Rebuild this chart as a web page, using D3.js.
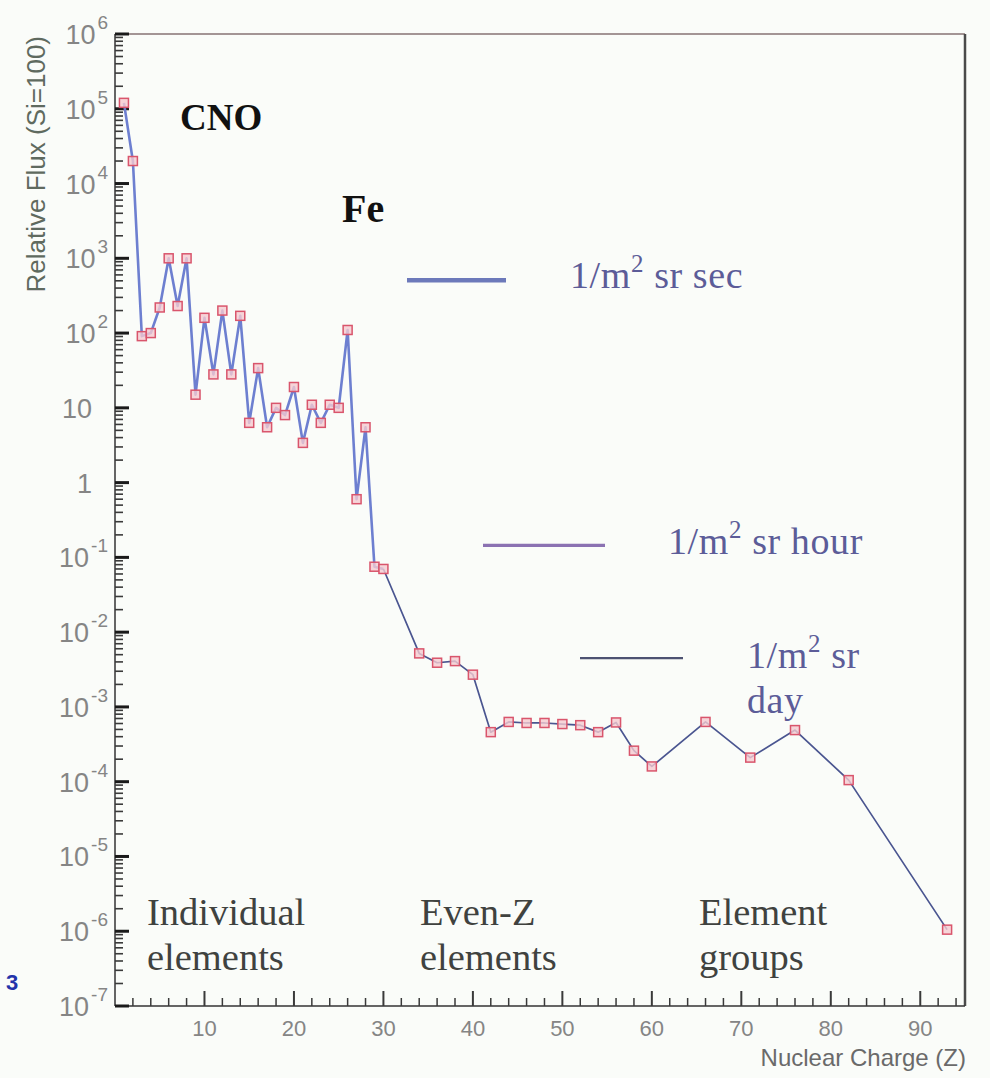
<!DOCTYPE html>
<html>
<head>
<meta charset="utf-8">
<script src="https://cdn.jsdelivr.net/npm/d3@7"></script>
<style>
  body { margin: 0; background: #fafcf9; }
  svg { display: block; }
</style>
</head>
<body>
<svg id="chart" width="990" height="1078"></svg>
<script>
// Nuclear charge Z of each measured element / group
const charges = [1, 2, 3, 4, 5, 6, 7, 8, 9, 10, 11, 12, 13, 14, 15, 16, 17, 18, 19, 20,
  21, 22, 23, 24, 25, 26, 27, 28, 29, 30, 34, 36, 38, 40, 42, 44, 46, 48, 50, 52,
  54, 56, 58, 60, 66, 71, 76, 82, 93];
// Relative flux, normalised to Si = 100
const relFlux = [1.2e5, 2.0e4, 91, 100, 220, 1000, 230, 1000, 15, 160, 28, 200, 28, 170, 6.3, 34, 5.5, 10, 8, 19,
  3.4, 11, 6.3, 11, 10, 110, 0.6, 5.5, 0.075, 0.07, 5.2e-3, 3.9e-3, 4.1e-3, 2.7e-3, 4.6e-4, 6.3e-4, 6.1e-4, 6.1e-4, 5.9e-4, 5.7e-4,
  4.6e-4, 6.2e-4, 2.6e-4, 1.6e-4, 6.3e-4, 2.1e-4, 4.9e-4, 1.05e-4, 1.05e-6];

// Flux levels corresponding to one particle per m^2 sr per second / hour / day
const rateValues = [510, 0.145, 4.5e-3];
const rateUnits = ["sec", "hour", "day"];

// Axis ticks
const yExponents = d3.range(-7, 7);
const xTickLabels = [10, 20, 30, 40, 50, 60, 70, 80, 90];

const svg = d3.select("#chart");
const W = 990, H = 1078;
const plot = { left: 115, right: 965, top: 34, bottom: 1006 };

const x = d3.scaleLinear().domain([0, 95]).range([plot.left, plot.right]);
const y = d3.scaleLog().domain([1e-7, 1e6]).range([plot.bottom, plot.top]);

svg.append("rect").attr("width", W).attr("height", H).attr("fill", "#fafcf9");

const sans = "'Liberation Sans', Arial, sans-serif";
const serif = "'Liberation Serif', 'Times New Roman', serif";

// Frame
svg.append("line").attr("x1", plot.left).attr("x2", plot.right)
  .attr("y1", plot.top).attr("y2", plot.top)
  .attr("stroke", "#a39595").attr("stroke-width", 2);
svg.append("line").attr("x1", plot.right).attr("x2", plot.right)
  .attr("y1", plot.top).attr("y2", plot.bottom)
  .attr("stroke", "#4a4a4a").attr("stroke-width", 2.5);
svg.append("line").attr("x1", plot.left).attr("x2", plot.right)
  .attr("y1", plot.bottom).attr("y2", plot.bottom)
  .attr("stroke", "#333").attr("stroke-width", 1.5);
svg.append("line").attr("x1", plot.left).attr("x2", plot.left)
  .attr("y1", plot.top).attr("y2", plot.bottom)
  .attr("stroke", "#333").attr("stroke-width", 1.5);

// Y ticks: decades and 2..9 sub-divisions, drawn inward
const yMinor = [];
for (let e = -7; e < 6; e++) for (let m = 2; m <= 9; m++) yMinor.push(m * Math.pow(10, e));
svg.append("g").selectAll("line").data(yMinor).join("line")
  .attr("x1", plot.left).attr("x2", plot.left + 8)
  .attr("y1", d => y(d)).attr("y2", d => y(d))
  .attr("stroke", "#3a3a3a").attr("stroke-width", 1.6);
svg.append("g").selectAll("line").data(yExponents).join("line")
  .attr("x1", plot.left).attr("x2", plot.left + 14)
  .attr("y1", d => y(Math.pow(10, d))).attr("y2", d => y(Math.pow(10, d)))
  .attr("stroke", "#1a1a1a").attr("stroke-width", 3);

// Y tick labels
const yLab = svg.append("g").attr("font-family", sans).attr("fill", "#858585");
yExponents.forEach(e => {
  const yy = y(Math.pow(10, e));
  if (e === 0 || e === 1) {
    yLab.append("text").attr("x", 92).attr("y", yy + 10)
      .attr("text-anchor", "end").attr("font-size", 27)
      .text(e === 0 ? "1" : "10");
  } else {
    const t = yLab.append("text").attr("x", 108).attr("y", yy + 10)
      .attr("text-anchor", "end");
    t.append("tspan").attr("font-size", 27).text("10");
    t.append("tspan").attr("font-size", 19).attr("dy", -15).attr("dx", 2).text(String(e));
  }
});

// X ticks
svg.append("g").selectAll("line").data(d3.range(2, 96, 2)).join("line")
  .attr("x1", d => x(d)).attr("x2", d => x(d))
  .attr("y1", plot.bottom).attr("y2", d => plot.bottom - (d % 10 === 0 ? 15 : 8))
  .attr("stroke", "#3a3a3a").attr("stroke-width", d => d % 10 === 0 ? 2 : 1.5);

svg.append("g").selectAll("text").data(xTickLabels).join("text")
  .attr("x", d => x(d)).attr("y", 1036)
  .attr("text-anchor", "middle").attr("font-family", sans)
  .attr("font-size", 22).attr("fill", "#858585")
  .text(d => d);

// Axis titles
svg.append("text")
  .attr("transform", "translate(45,36) rotate(-90)")
  .attr("text-anchor", "end").attr("font-family", sans)
  .attr("font-size", 26).attr("fill", "#5f6a5f")
  .text("Relative Flux (Si=100)");
svg.append("text")
  .attr("x", 966).attr("y", 1066).attr("text-anchor", "end")
  .attr("font-family", sans).attr("font-size", 24).attr("fill", "#6a6a6a")
  .text("Nuclear Charge (Z)");

// Reference flux levels with their labels
const rateX = [[407, 506], [483, 605], [580, 683]];
const rateColor = ["#6c79ba", "#8b72b2", "#4d5272"];
const rateWidth = [4.5, 3.2, 2.2];
rateValues.forEach((v, i) => {
  svg.append("line")
    .attr("x1", rateX[i][0]).attr("x2", rateX[i][1])
    .attr("y1", y(v)).attr("y2", y(v))
    .attr("stroke", rateColor[i]).attr("stroke-width", rateWidth[i]);
});
const rateLabelPos = [[570, 288], [668, 554], [747, 668]];
rateUnits.forEach((u, i) => {
  const t = svg.append("text").attr("x", rateLabelPos[i][0]).attr("y", rateLabelPos[i][1])
    .attr("font-family", serif).attr("font-size", 38).attr("letter-spacing", 0.6)
    .attr("fill", "#5c5c98");
  t.append("tspan").text("1/m");
  t.append("tspan").attr("font-size", 25).attr("dy", -16).text("2");
  t.append("tspan").attr("dy", 16).text(u === "day" ? " sr" : " sr " + u);
  if (u === "day") {
    svg.append("text").attr("x", rateLabelPos[i][0]).attr("y", rateLabelPos[i][1] + 45)
      .attr("font-family", serif).attr("font-size", 38).attr("letter-spacing", 0.6)
      .attr("fill", "#5c5c98").text("day");
  }
});

// Data line: individual elements, then even-Z / grouped elements
const points = charges.map((z, i) => ({ z, f: relFlux[i] }));
const line = d3.line().x(d => x(d.z)).y(d => y(d.f));
svg.append("path").datum(points.filter(d => d.z <= 30))
  .attr("d", line).attr("fill", "none")
  .attr("stroke", "#6d7fd0").attr("stroke-width", 2.6).attr("stroke-linejoin", "round");
svg.append("path").datum(points.filter(d => d.z >= 30))
  .attr("d", line).attr("fill", "none")
  .attr("stroke", "#4a5590").attr("stroke-width", 1.7).attr("stroke-linejoin", "round");

// Markers
svg.append("g").selectAll("rect").data(points).join("rect")
  .attr("x", d => x(d.z) - 4.5).attr("y", d => y(d.f) - 4.5)
  .attr("width", 9).attr("height", 9)
  .attr("fill", "#f5c9cf").attr("fill-opacity", 0.8)
  .attr("stroke", "#d9556c").attr("stroke-width", 1.5);

// Annotations
svg.append("text").attr("x", 180).attr("y", 130)
  .attr("font-family", serif).attr("font-weight", "bold").attr("font-size", 37)
  .attr("fill", "#111").text("CNO");
svg.append("text").attr("x", 342).attr("y", 222)
  .attr("font-family", serif).attr("font-weight", "bold").attr("font-size", 40)
  .attr("fill", "#111").text("Fe");

const groupLabels = [
  { x: 147, lines: ["Individual", "elements"] },
  { x: 420, lines: ["Even-Z", "elements"] },
  { x: 699, lines: ["Element", "groups"] }
];
groupLabels.forEach(g => {
  g.lines.forEach((s, k) => {
    svg.append("text").attr("x", g.x).attr("y", 925 + k * 45)
      .attr("font-family", serif).attr("font-size", 38.5).attr("fill", "#3f423f")
      .text(s);
  });
});

// Page number fragment at the left margin
svg.append("text").attr("x", 6).attr("y", 990)
  .attr("font-family", sans).attr("font-weight", "bold").attr("font-size", 22)
  .attr("fill", "#2233aa").text("3");
</script>
</body>
</html>
